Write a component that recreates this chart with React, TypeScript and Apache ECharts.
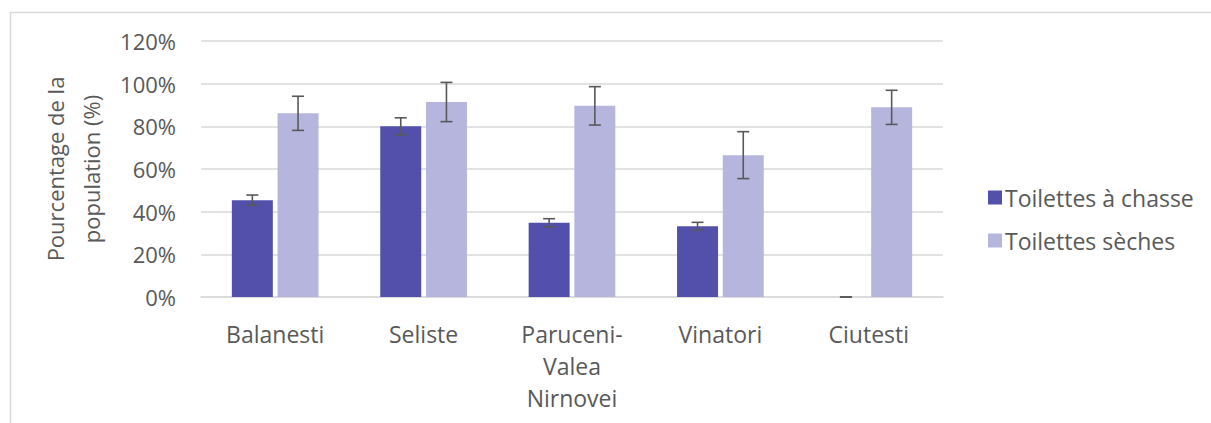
import React, { useEffect, useRef } from "react";
import * as echarts from "echarts";

const categories = ["Balanesti", "Seliste", "Paruceni-\nValea\nNirnovei", "Vinatori", "Ciutesti"];
const flushLabel = "Toilettes à chasse";
const dryLabel = "Toilettes sèches";
const flushValues = [45.4, 80, 34.8, 33.2, 0];
const flushErrors = [2.4, 4, 1.9, 1.8, 0];
const dryValues = [86.1, 91.4, 89.6, 66.5, 88.9];
const dryErrors = [8, 9.2, 9, 11, 8];
const yTicks = { min: 0, max: 120, interval: 20 };

const FONT = "'Open Sans', sans-serif";
const TEXT = "#595959";
const GRIDC = "#d9d9d9";
const BAR_W = 41;
const BAR_GAP_PX = 4.7;

export default function App() {
  const ref = useRef<HTMLDivElement>(null);
  useEffect(() => {
    if (!ref.current) return;
    const chart = echarts.init(ref.current, null, { renderer: "svg" });
    const offset = BAR_GAP_PX / 2 + BAR_W / 2;
    const errSeries = (name: string, vals: number[], errs: number[], dir: number) => ({
      type: "custom",
      name: name + " err",
      silent: true,
      z: 5,
      data: vals.map((v, i) => [i, v, errs[i]]),
      renderItem: (params: any, api: any) => {
        const i = api.value(0);
        const v = api.value(1);
        const e = api.value(2);
        const hi = api.coord([i, v + e]);
        const lo = api.coord([i, v - e]);
        const x = hi[0] + dir * offset;
        const cap = 6;
        const st = { stroke: TEXT, lineWidth: 1.6 };
        return {
          type: "group",
          children: [
            { type: "line", shape: { x1: x, y1: hi[1], x2: x, y2: lo[1] }, style: st },
            { type: "line", shape: { x1: x - cap, y1: hi[1], x2: x + cap, y2: hi[1] }, style: st },
            { type: "line", shape: { x1: x - cap, y1: lo[1], x2: x + cap, y2: lo[1] }, style: st },
          ],
        };
      },
    });
    chart.setOption({
      animation: false,
      backgroundColor: "#fff",
      textStyle: { fontFamily: FONT },
      grid: { left: 201, top: 41, width: 742, height: 256 },
      legend: {
        orient: "vertical",
        left: 983,
        top: 181,
        itemWidth: 14,
        itemHeight: 14,
        itemGap: 20,
        icon: "rect",
        data: [flushLabel, dryLabel],
        textStyle: { color: TEXT, fontSize: 23, fontFamily: FONT, padding: [0, 0, 0, -2] },
      },
      xAxis: {
        type: "category",
        data: categories,
        axisLine: { lineStyle: { color: GRIDC, width: 1.5 } },
        axisTick: { show: false },
        axisLabel: { color: TEXT, fontSize: 23, margin: 21, lineHeight: 32, fontFamily: FONT },
      },
      yAxis: {
        type: "value",
        min: yTicks.min,
        max: yTicks.max,
        interval: yTicks.interval,
        name: "Pourcentage de la\npopulation (%)",
        nameLocation: "middle",
        nameRotate: 90,
        nameGap: 90,
        nameTextStyle: { color: TEXT, fontSize: 22, lineHeight: 36, fontFamily: FONT },
        axisLine: { show: false },
        axisTick: { show: false },
        axisLabel: { color: TEXT, fontSize: 22, margin: 25, formatter: "{value}%", fontFamily: FONT },
        splitLine: { lineStyle: { color: GRIDC, width: 1.5 } },
      },
      graphic: [
        {
          type: "rect",
          silent: true,
          shape: { x: 10.5, y: 12.5, width: 1400, height: 600 },
          style: { fill: "none", stroke: GRIDC, lineWidth: 1.5 },
        },
      ],
      series: [
        {
          type: "bar",
          name: flushLabel,
          data: flushValues,
          barWidth: BAR_W,
          barGap: ((BAR_GAP_PX / BAR_W) * 100).toFixed(1) + "%",
          itemStyle: { color: "#5250AB" },
        },
        {
          type: "bar",
          name: dryLabel,
          data: dryValues,
          barWidth: BAR_W,
          itemStyle: { color: "#B6B5DD" },
        },
        errSeries(flushLabel, flushValues, flushErrors, -1),
        errSeries(dryLabel, dryValues, dryErrors, 1),
      ],
    });
    return () => chart.dispose();
  }, []);
  return (
    <div style={{ position: "fixed", left: 0, top: 0, width: 1211, height: 423, overflow: "hidden", background: "#fff" }}>
      <div ref={ref} style={{ width: 1211, height: 423 }} />
    </div>
  );
}
